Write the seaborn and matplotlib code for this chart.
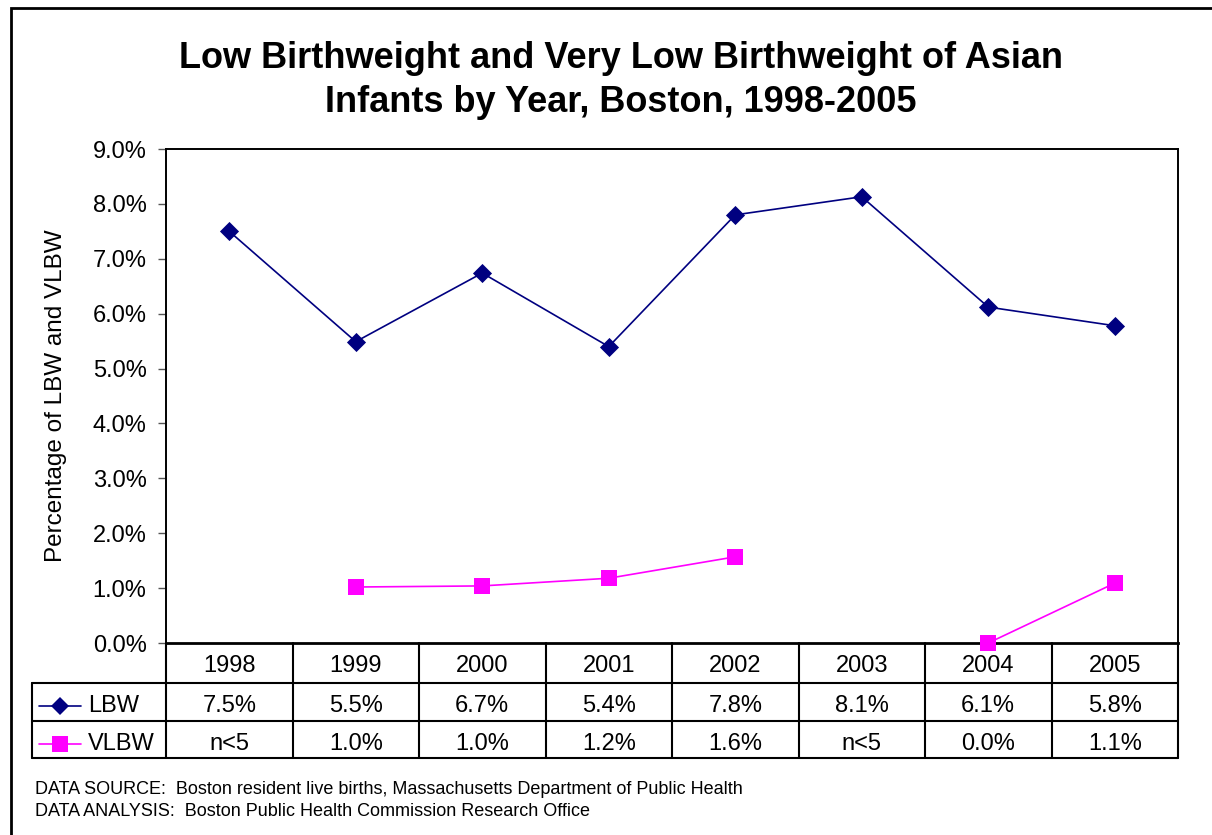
import numpy as np
import pandas as pd
import seaborn as sns
import matplotlib.pyplot as plt
from matplotlib.lines import Line2D
from matplotlib.patches import Rectangle

# Chart data
years = ["1998", "1999", "2000", "2001", "2002", "2003", "2004", "2005"]
lbw = [7.50, 5.49, 6.74, 5.40, 7.80, 8.13, 6.12, 5.78]
vlbw = [np.nan, 1.02, 1.04, 1.18, 1.57, np.nan, 0.0, 1.09]
lbw_labels = ["7.5%", "5.5%", "6.7%", "5.4%", "7.8%", "8.1%", "6.1%", "5.8%"]
vlbw_labels = ["n<5", "1.0%", "1.0%", "1.2%", "1.6%", "n<5", "0.0%", "1.1%"]
yticks = [0, 1, 2, 3, 4, 5, 6, 7, 8, 9]

NAVY = "#000080"
MAGENTA = "#FF00FF"

sns.set_theme(style="white")
plt.rcParams["font.family"] = ["Liberation Sans", "DejaVu Sans"]
plt.rcParams["text.color"] = "black"
plt.rcParams["axes.labelcolor"] = "black"
plt.rcParams["ytick.labelcolor"] = "black"

W, H = 1212, 835
fig = plt.figure(figsize=(W / 100, H / 100), dpi=100)

# plot area in pixels: x 166..1178, y 149..643
ax = fig.add_axes([166 / W, (H - 643) / H, 1012 / W, 494 / H])

# long-form frame, with a segment id so missing values break the line
rows = []
for name, vals in (("LBW", lbw), ("VLBW", vlbw)):
    seg = 0
    for i, v in enumerate(vals):
        if np.isnan(v):
            seg += 1
            continue
        rows.append({"series": name, "pos": i, "value": v, "seg": f"{name}{seg}"})
df = pd.DataFrame(rows)

sns.lineplot(data=df, x="pos", y="value", hue="series", units="seg",
             estimator=None, sort=True,
             palette={"LBW": NAVY, "VLBW": MAGENTA},
             linewidth=1.2, legend=False, ax=ax, clip_on=False)
# markers drawn separately so sizes differ by series
sns.scatterplot(data=df[df.series == "LBW"], x="pos", y="value", marker="D",
                s=95, color=NAVY, edgecolor=NAVY, linewidth=0, ax=ax,
                legend=False, clip_on=False, zorder=5)
sns.scatterplot(data=df[df.series == "VLBW"], x="pos", y="value", marker="s",
                s=125, color=MAGENTA, edgecolor=MAGENTA, linewidth=0, ax=ax,
                legend=False, clip_on=False, zorder=5)

ax.set_xlim(-0.5, len(years) - 0.5)
ax.set_ylim(0, 9)
ax.set_yticks(yticks)
ax.set_yticklabels([f"{t:.1f}%" for t in yticks], fontsize=17)
ax.set_xticks([])
ax.set_xlabel("")
ax.set_ylabel("Percentage of LBW and VLBW", fontsize=17.5)
ax.yaxis.set_label_coords(-0.098, 0.5)
ax.tick_params(axis="y", left=True, length=6, width=1, color="#555555", pad=8)
for sp in ax.spines.values():
    sp.set_visible(True)
    sp.set_color("black")
    sp.set_linewidth(1.4)
ax.spines["bottom"].set_linewidth(2)

# data table underneath the plot
px = 494.0
r1, r2, r3 = -40 / px, -78 / px, -115 / px
leg_left = (32 - 166) / 1012 * len(years) - 0.5
bt = ax.get_xaxis_transform()
lw = 1.5
fs = 17

def hline(x0, x1, y):
    ax.add_line(Line2D([x0, x1], [y, y], transform=bt, color="black",
                       lw=lw, clip_on=False))

def vline(x, y0, y1):
    ax.add_line(Line2D([x, x], [y0, y1], transform=bt, color="black",
                       lw=lw, clip_on=False))

hline(leg_left, len(years) - 0.5, r1)
hline(leg_left, len(years) - 0.5, r2)
hline(leg_left, len(years) - 0.5, r3)
vline(leg_left, r1, r3)
for i in range(len(years) + 1):
    vline(i - 0.5, 0, r3)

row2 = (r1 + r2) / 2 - 4 / px
row3 = (r2 + r3) / 2 - 4 / px
for i, yr in enumerate(years):
    ax.text(i, r1 / 2 - 3 / px, yr, transform=bt, ha="center", va="center",
            fontsize=fs, clip_on=False)
    ax.text(i, row2, lbw_labels[i], transform=bt,
            ha="center", va="center", fontsize=fs, clip_on=False)
    ax.text(i, row3, vlbw_labels[i], transform=bt,
            ha="center", va="center", fontsize=fs, clip_on=False)

# legend keys inside the table
cw = 1012 / len(years)
kx0 = leg_left + 7 / cw
kx1 = leg_left + 49 / cw
kxm = (kx0 + kx1) / 2
for yy, col, mk, ms, lab in ((row2, NAVY, "D", 9, "LBW"),
                             (row3, MAGENTA, "s", 11, "VLBW")):
    ax.add_line(Line2D([kx0, kx1], [yy, yy], transform=bt, color=col,
                       lw=1.2, clip_on=False))
    ax.add_line(Line2D([kxm], [yy], transform=bt, color=col, marker=mk,
                       markersize=ms, markeredgewidth=0, clip_on=False))
    ax.text(leg_left + 56 / cw, yy, lab, transform=bt, ha="left",
            va="center", fontsize=fs, clip_on=False)

# title
fig.text(621 / W, 1 - 58 / H, "Low Birthweight and Very Low Birthweight of Asian",
         ha="center", va="center", fontsize=26, fontweight="bold")
fig.text(621 / W, 1 - 103 / H, "Infants by Year, Boston, 1998-2005",
         ha="center", va="center", fontsize=26, fontweight="bold")

# footer
fig.text(35 / W, 1 - 789 / H,
         "DATA SOURCE:  Boston resident live births, Massachusetts Department of Public Health",
         ha="left", va="center", fontsize=13)
fig.text(35 / W, 1 - 811 / H,
         "DATA ANALYSIS:  Boston Public Health Commission Research Office",
         ha="left", va="center", fontsize=13)

# outer chart frame (only top and left edges fall inside the image)
fig.add_artist(Rectangle((10.5 / W, -0.05), 1.1, 1 - 8 / H + 0.05,
                         transform=fig.transFigure, fill=False,
                         edgecolor="black", linewidth=2))

fig.savefig("out.png", dpi=100)
